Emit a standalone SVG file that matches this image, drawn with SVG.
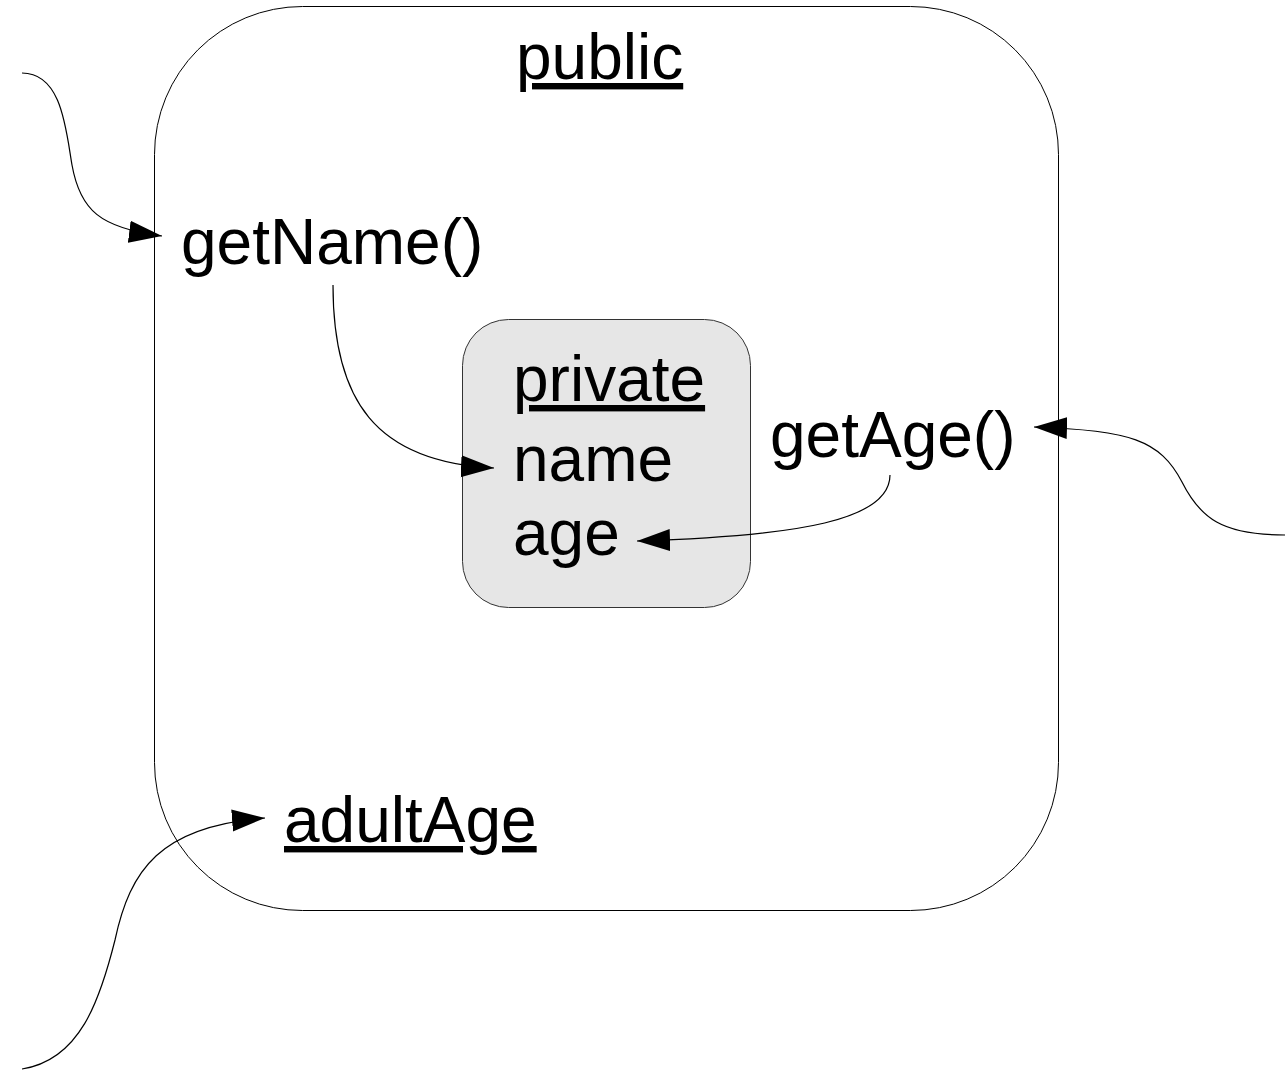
<svg xmlns="http://www.w3.org/2000/svg" width="1285" height="1070" viewBox="0 0 1285 1070">
<defs>
<style>
text{font-family:"Liberation Sans",Arial,sans-serif;font-size:64px;fill:#000}
.u{text-decoration:underline}
.conn{fill:none;stroke:#000;stroke-width:1.2}
</style>
<marker id="ah" markerUnits="userSpaceOnUse" markerWidth="34" markerHeight="24" refX="33" refY="11" orient="auto" viewBox="0 0 34 22">
<path d="M0,0 L33,11 L0,22 z" fill="#000"/>
</marker>
</defs>
<rect width="1285" height="1070" fill="#fff"/>
<g id="public">
<rect x="154.5" y="6.5" width="904" height="904" rx="148" ry="148" fill="none" stroke="#000" stroke-width="1"/>
<text class="u" x="516" y="79">public</text>
</g>
<g id="getName"><text x="181" y="264">getName()</text></g>
<g id="private">
<rect x="462.5" y="319.5" width="288" height="288" rx="46" ry="46" fill="#e6e6e6" stroke="#333" stroke-width="1"/>
<text class="u" x="513" y="401">private</text>
<text x="513" y="481">name</text>
<text x="513" y="555">age</text>
</g>
<g id="getAge"><text x="770" y="457">getAge()</text></g>
<g id="adultAge"><text class="u" x="284" y="842">adultAge</text></g>
<g id="connectors">
<path class="conn" marker-end="url(#ah)" d="M22,73 C62,73 66,130 72,165 C80,210 100,228 162,236"/>
<path class="conn" marker-end="url(#ah)" d="M333,285 C333,400 375,462 494,468"/>
<path class="conn" marker-end="url(#ah)" d="M890,475 C890,520 800,536 637,541"/>
<path class="conn" marker-end="url(#ah)" d="M1285,535 C1222,535 1200,518 1182,482 C1160,440 1130,430 1034,427"/>
<path class="conn" marker-end="url(#ah)" d="M22,1069 C80,1060 100,1000 115,940 C130,870 160,826 265,818"/>
</g>
</svg>
